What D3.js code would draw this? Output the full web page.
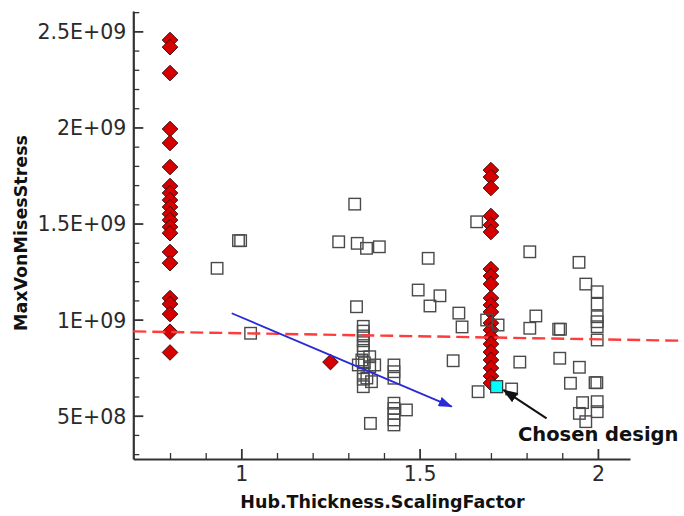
<!DOCTYPE html>
<html><head><meta charset="utf-8">
<script src="https://cdn.jsdelivr.net/npm/d3@7"></script>
<style>body{margin:0;background:#fff} svg{display:block}</style>
</head><body><svg id="c" width="684" height="516"></svg>
<script>
// ---- data ----
const xTickValues = [1, 1.5, 2];
const xTickLabels = ["1", "1.5", "2"];
const yTickValues = [5e8, 1e9, 1.5e9, 2e9, 2.5e9];
const yTickLabels = ["5E+08", "1E+09", "1.5E+09", "2E+09", "2.5E+09"];
const xMinorTicks = [0.8, 0.9, 1.1, 1.2, 1.3, 1.4, 1.6, 1.7, 1.8, 1.9];
const yMinorTicks = [3e8, 4e8, 6e8, 7e8, 8e8, 9e8, 1.1e9, 1.2e9, 1.3e9, 1.4e9, 1.6e9, 1.7e9, 1.8e9, 1.9e9, 2.1e9, 2.2e9, 2.3e9, 2.4e9, 2.6e9];

// red diamonds
const diamondX = [0.8,0.8,0.8,0.8,0.8,0.8,0.8,0.8,0.8,0.8,0.8,0.8,0.8,0.8,0.8,0.8,0.8,0.8,0.8,0.8,0.8,
  1.25,
  1.7,1.7,1.7,1.7,1.7,1.7,1.7,1.7,1.7,1.7,1.7,1.7,1.7,1.7,1.7,1.7,1.7,1.7,1.7,1.7,1.7];
const diamondY = [2.455e9,2.418e9,2.283e9,1.992e9,1.919e9,1.794e9,1.695e9,1.659e9,1.622e9,1.586e9,1.55e9,1.518e9,1.482e9,1.45e9,1.352e9,1.294e9,1.112e9,1.081e9,1.029e9,0.937e9,0.829e9,
  0.779e9,
  1.778e9,1.742e9,1.685e9,1.539e9,1.492e9,1.456e9,1.263e9,1.227e9,1.185e9,1.112e9,1.076e9,1.04e9,0.982e9,0.946e9,0.909e9,0.873e9,0.831e9,0.79e9,0.748e9,0.706e9,0.67e9];

// hollow squares
const squareX = [0.932,0.992,0.998,1.026,
  1.318,1.273,1.325,1.351,1.387,
  1.524,1.496,1.557,1.529,1.610,1.619,1.323,
  1.342,1.342,1.342,1.342,1.342,1.342,
  1.328,1.360,1.360,1.342,1.365,1.342,1.352,1.338,1.374,1.342,1.345,
  1.428,1.428,1.428,1.428,1.428,1.428,1.428,1.428,
  1.463,1.362,1.594,
  1.660,1.809,1.688,1.720,1.664,1.758,1.781,1.826,1.809,1.890,1.895,
  1.947,1.966,1.998,1.998,1.998,1.998,1.998,1.998,
  1.893,1.948,1.923,1.992,1.997,1.957,1.998,1.998,1.948,1.966];
const squareY = [1.267e9,1.411e9,1.411e9,0.929e9,
  1.601e9,1.405e9,1.397e9,1.371e9,1.379e9,
  1.319e9,1.154e9,1.124e9,1.071e9,1.034e9,0.962e9,1.067e9,
  0.965e9,0.94e9,0.915e9,0.89e9,0.865e9,0.84e9,
  0.764e9,0.807e9,0.755e9,0.721e9,0.677e9,0.651e9,0.696e9,0.790e9,0.764e9,0.69e9,0.775e9,
  0.764e9,0.729e9,0.695e9,0.565e9,0.538e9,0.512e9,0.478e9,0.452e9,
  0.530e9,0.460e9,0.786e9,
  1.509e9,1.353e9,0.998e9,0.972e9,0.625e9,0.639e9,0.779e9,1.019e9,0.955e9,0.950e9,0.950e9,
  1.298e9,1.185e9,1.145e9,1.081e9,1.015e9,0.989e9,0.963e9,0.894e9,
  0.799e9,0.752e9,0.669e9,0.672e9,0.672e9,0.568e9,0.573e9,0.521e9,0.512e9,0.469e9];

const chosenX = [1.716];
const chosenY = [0.651e9];

const limitLineX = [0.697, 2.23];
const limitLineY = [0.9387e9, 0.8903e9];
const trendArrowX = [0.973, 1.590];
const trendArrowY = [1.033e9, 0.547e9];
const chosenArrowX = [1.856, 1.735];
const chosenArrowY = [0.4865e9, 0.634e9];
const chosenLabel = "Chosen design";
const xTitle = "Hub.Thickness.ScalingFactor";
const yTitle = "MaxVonMisesStress";

// ---- drawing ----
const svg = d3.select("#c");
const x = d3.scaleLinear().domain([0.697, 2.09]).range([133.3, 630]);
const y = d3.scaleLinear().domain([2.747e8, 2.606e9]).range([459, 11]);
const axisColor = "#333";
const tickFont = "DejaVu Sans, Liberation Sans, sans-serif";

const defs = svg.append("defs");
defs.append("marker").attr("id","mBlue").attr("markerUnits","userSpaceOnUse")
  .attr("viewBox","0 -5 14 10").attr("refX",13).attr("refY",0)
  .attr("markerWidth",14).attr("markerHeight",10).attr("orient","auto")
  .append("path").attr("d","M0,-5L14,0L0,5Z").attr("fill","#2a2ad6");
defs.append("marker").attr("id","mBlack").attr("markerUnits","userSpaceOnUse")
  .attr("viewBox","0 -5.5 15 11").attr("refX",14).attr("refY",0)
  .attr("markerWidth",15).attr("markerHeight",11).attr("orient","auto")
  .append("path").attr("d","M0,-5.5L15,0L0,5.5Z").attr("fill","#111");

// minor ticks
svg.append("g").attr("transform","translate(0,459)")
  .call(d3.axisBottom(x).tickValues(xMinorTicks).tickSize(-6).tickFormat(""))
  .call(g => { g.select(".domain").remove(); g.selectAll("line").attr("stroke",axisColor).attr("stroke-width",1.3); });
svg.append("g").attr("transform","translate(133.3,0)")
  .call(d3.axisLeft(y).tickValues(yMinorTicks).tickSize(-6).tickFormat(""))
  .call(g => { g.select(".domain").remove(); g.selectAll("line").attr("stroke",axisColor).attr("stroke-width",1.3); });

// major axes
const gx = svg.append("g").attr("transform","translate(0,459)")
  .call(d3.axisBottom(x).tickValues(xTickValues).tickFormat((d,i)=>xTickLabels[i])
    .tickSizeInner(-10).tickSizeOuter(0).tickPadding(7));
const gy = svg.append("g").attr("transform","translate(133.3,0)")
  .call(d3.axisLeft(y).tickValues(yTickValues).tickFormat((d,i)=>yTickLabels[i])
    .tickSizeInner(-10).tickSizeOuter(0).tickPadding(7));
[gx, gy].forEach(g => {
  g.select(".domain").attr("stroke",axisColor).attr("stroke-width",2.2);
  g.selectAll(".tick line").attr("stroke",axisColor).attr("stroke-width",1.8);
  g.selectAll(".tick text").attr("fill","#2a2a2a").style("font-family",tickFont).style("font-size","20.5px");
});
gy.selectAll(".tick text").attr("dy","0.36em");

// diamonds
const dSize = 7.8;
svg.append("g").selectAll("path").data(diamondX.map((d,i)=>[d,diamondY[i]])).join("path")
  .attr("d", d => { const cx=x(d[0]), cy=y(d[1]); return `M${cx},${cy-dSize}L${cx+dSize},${cy}L${cx},${cy+dSize}L${cx-dSize},${cy}Z`; })
  .attr("fill","#d60000").attr("stroke","#3a1010").attr("stroke-width",1);

// squares
const sq = 11.5;
svg.append("g").selectAll("rect").data(squareX.map((d,i)=>[d,squareY[i]])).join("rect")
  .attr("x", d => x(d[0]) - sq/2).attr("y", d => y(d[1]) - sq/2)
  .attr("width", sq).attr("height", sq)
  .attr("fill","none").attr("stroke","#4a4a4a").attr("stroke-width",1.4);

// limit dashed line
svg.append("line")
  .attr("x1", x(limitLineX[0])).attr("y1", y(limitLineY[0]))
  .attr("x2", x(limitLineX[1])).attr("y2", y(limitLineY[1]))
  .attr("stroke","#ff3b3b").attr("stroke-width",2.4).attr("stroke-dasharray","13,6");

// trend arrow (blue)
svg.append("line")
  .attr("x1", x(trendArrowX[0])).attr("y1", y(trendArrowY[0]))
  .attr("x2", x(trendArrowX[1])).attr("y2", y(trendArrowY[1]))
  .attr("stroke","#2a2ad6").attr("stroke-width",1.8).attr("marker-end","url(#mBlue)");

// chosen design
svg.append("g").selectAll("rect").data(chosenX.map((d,i)=>[d,chosenY[i]])).join("rect")
  .attr("x", d => x(d[0]) - 6).attr("y", d => y(d[1]) - 6)
  .attr("width", 12).attr("height", 12)
  .attr("fill","#00ffff").attr("stroke","#333").attr("stroke-width",1.2);

svg.append("line")
  .attr("x1", x(chosenArrowX[0])).attr("y1", y(chosenArrowY[0]))
  .attr("x2", x(chosenArrowX[1])).attr("y2", y(chosenArrowY[1]))
  .attr("stroke","#111").attr("stroke-width",2).attr("marker-end","url(#mBlack)");

svg.append("text").attr("x",518).attr("y",441).text(chosenLabel)
  .style("font-family",tickFont).style("font-weight","bold").style("font-size","19.5px").attr("fill","#111");

// axis titles
svg.append("text").attr("x",382.5).attr("y",508).attr("text-anchor","middle").text(xTitle)
  .style("font-family",tickFont).style("font-weight","bold").style("font-size","17.5px").attr("fill","#111");
svg.append("text").attr("transform","translate(27,233) rotate(-90)").attr("text-anchor","middle").text(yTitle)
  .style("font-family",tickFont).style("font-weight","bold").style("font-size","17.5px").attr("fill","#111");
</script></body></html>
